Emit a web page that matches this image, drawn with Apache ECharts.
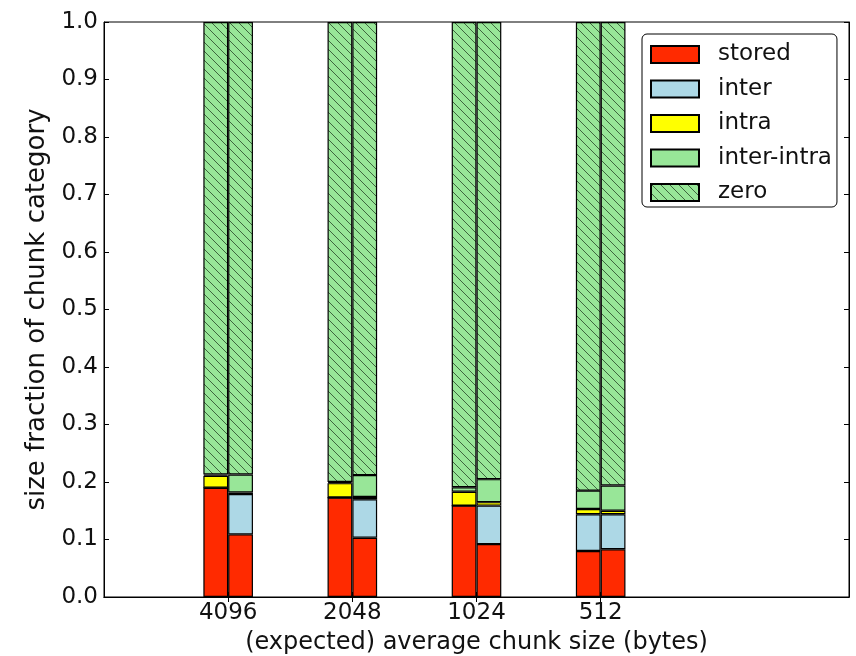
<!DOCTYPE html>
<html>
<head>
<meta charset="utf-8">
<script src="https://cdn.jsdelivr.net/npm/echarts@6/dist/echarts.min.js"></script>
<style>
  html, body { margin: 0; padding: 0; background: #fff; }
  #chart { width: 856px; height: 656px; }
</style>
</head>
<body>
<div id="chart"></div>
<script>
// Expected average chunk sizes (bytes); blank slots pad the axis on both sides
const categories = ['', '4096', '2048', '1024', '512', '', ''];
const yTicks = [0, 0.1, 0.2, 0.3, 0.4, 0.5, 0.6, 0.7, 0.8, 0.9, 1.0];

// Left bar of each pair
const storedA     = [null, 0.190, 0.173, 0.159, 0.080, null, null];
const interA      = [null, 0.000, 0.000, 0.000, 0.064, null, null];
const intraA      = [null, 0.021, 0.025, 0.024, 0.009, null, null];
const interIntraA = [null, 0.002, 0.002, 0.008, 0.032, null, null];
const zeroA       = [null, 0.787, 0.800, 0.809, 0.815, null, null];

// Right bar of each pair
const storedB     = [null, 0.109, 0.103, 0.092, 0.083, null, null];
const interB      = [null, 0.070, 0.067, 0.067, 0.061, null, null];
const intraB      = [null, 0.003, 0.004, 0.006, 0.006, null, null];
const interIntraB = [null, 0.031, 0.038, 0.040, 0.044, null, null];
const zeroB       = [null, 0.787, 0.788, 0.795, 0.806, null, null];

const seriesNames = ['stored', 'inter', 'intra', 'inter-intra', 'zero'];

// Back-slash hatch tile for the "zero" category
function hatchTile() {
  const s = 9;
  const c = document.createElement('canvas');
  c.width = s; c.height = s;
  const g = c.getContext('2d');
  g.fillStyle = '#98e698';
  g.fillRect(0, 0, s, s);
  g.strokeStyle = 'rgba(40,70,40,0.8)';
  g.lineWidth = 1;
  g.beginPath();
  for (let k = -1; k <= 1; k++) {
    g.moveTo(k * s - 1, -1);
    g.lineTo(k * s + s + 1, s + 1);
  }
  g.stroke();
  return c;
}

const fills = {
  'stored': '#ff2a00',
  'inter': '#add8e6',
  'intra': '#ffff00',
  'inter-intra': '#98e698',
  'zero': { image: hatchTile(), repeat: 'repeat' }
};

const FONT = 'DejaVu Sans';
const FS = 23;
const BAR_W = 24.8;

function barSeries(name, data, stack) {
  return {
    type: 'bar',
    name: name,
    stack: stack,
    data: data,
    barWidth: BAR_W,
    barGap: '0%',
    itemStyle: { color: fills[name], borderColor: '#000', borderWidth: 1.2 },
    emphasis: { disabled: true },
    animation: false
  };
}

const series = [
  barSeries('stored', storedA, 'a'),
  barSeries('inter', interA, 'a'),
  barSeries('intra', intraA, 'a'),
  barSeries('inter-intra', interIntraA, 'a'),
  barSeries('zero', zeroA, 'a'),
  barSeries('stored', storedB, 'b'),
  barSeries('inter', interB, 'b'),
  barSeries('intra', intraB, 'b'),
  barSeries('inter-intra', interIntraB, 'b'),
  barSeries('zero', zeroB, 'b')
];

const tickShown = (i) => i >= 1 && i <= 4;

const chart = echarts.init(document.getElementById('chart'), null, { renderer: 'canvas' });
chart.setOption({
  animation: false,
  backgroundColor: '#fff',
  textStyle: { fontFamily: FONT },
  grid: {
    left: 104, top: 22, width: 745, height: 575,
    outerBoundsMode: 'none',
    containLabel: false,
    show: true, borderColor: '#000', borderWidth: 1, backgroundColor: 'transparent'
  },
  legend: {
    data: seriesNames,
    orient: 'vertical',
    left: 642, top: 34,
    itemWidth: 48, itemHeight: 17, itemGap: 11.5,
    icon: 'rect',
    padding: [9, 5, 3, 8],
    backgroundColor: '#fff',
    borderColor: '#000', borderWidth: 1, borderRadius: 5,
    selectedMode: false,
    textStyle: { fontFamily: FONT, fontSize: FS, color: '#111', padding: [0, 0, 0, 14] }
  },
  xAxis: [
    {
      type: 'category',
      data: categories,
      boundaryGap: false,
      position: 'bottom',
      name: '(expected) average chunk size (bytes)',
      nameLocation: 'middle',
      nameGap: 34,
      nameTextStyle: { fontFamily: FONT, fontSize: 24, color: '#111' },
      axisLine: { show: true, lineStyle: { color: '#000', width: 1 } },
      axisTick: { show: true, inside: true, length: 5, interval: tickShown, lineStyle: { color: '#000' } },
      axisLabel: { interval: 0, margin: 5, fontFamily: FONT, fontSize: FS, color: '#111' },
      splitLine: { show: false }
    },
    {
      type: 'category',
      data: categories,
      boundaryGap: false,
      position: 'top',
      axisLine: { show: true, lineStyle: { color: '#000', width: 1 } },
      axisTick: { show: true, inside: true, length: 5, interval: tickShown, lineStyle: { color: '#000' } },
      axisLabel: { show: false },
      splitLine: { show: false }
    }
  ],
  yAxis: [
    {
      type: 'value',
      min: yTicks[0], max: yTicks[yTicks.length - 1], interval: 0.1,
      position: 'left',
      name: 'size fraction of chunk category',
      nameLocation: 'middle',
      nameGap: 52,
      nameRotate: 90,
      nameTextStyle: { fontFamily: FONT, fontSize: 26, color: '#111' },
      axisLine: { show: true, lineStyle: { color: '#000', width: 1 } },
      axisTick: { show: true, inside: true, length: 5, lineStyle: { color: '#000' } },
      axisLabel: { margin: 6, fontFamily: FONT, fontSize: FS, color: '#111', formatter: (v) => v.toFixed(1) },
      splitLine: { show: false }
    },
    {
      type: 'value',
      min: yTicks[0], max: yTicks[yTicks.length - 1], interval: 0.1,
      position: 'right',
      axisLine: { show: true, lineStyle: { color: '#000', width: 1 } },
      axisTick: { show: true, inside: true, length: 5, lineStyle: { color: '#000' } },
      axisLabel: { show: false },
      splitLine: { show: false }
    }
  ],
  series: series
});
</script>
</body>
</html>
